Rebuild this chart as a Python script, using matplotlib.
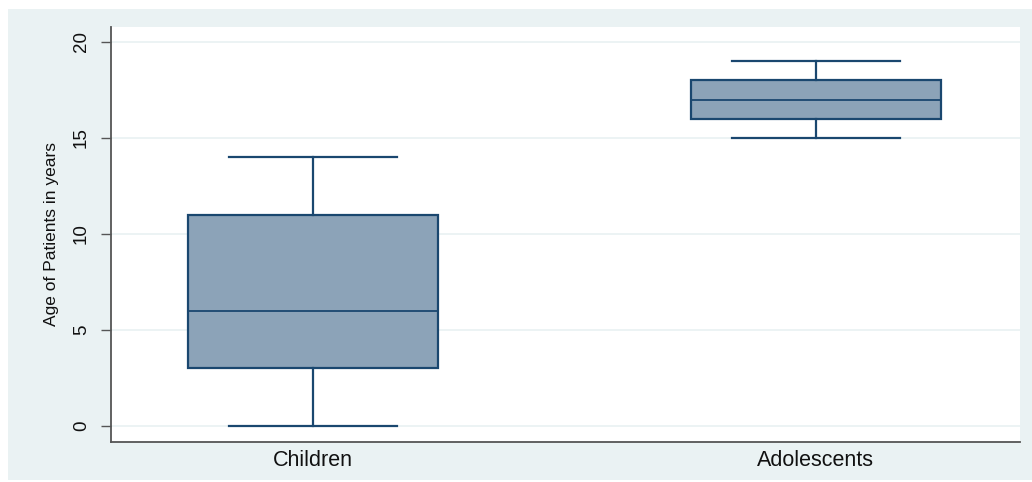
import matplotlib
matplotlib.use("Agg")
import matplotlib.pyplot as plt
from matplotlib.patches import Rectangle

plt.rcParams['font.family'] = ['Liberation Sans', 'DejaVu Sans']

categories = ["Children", "Adolescents"]
whisker_low = [0, 15]
q1 = [3, 16]
median = [6, 17]
q3 = [11, 18]
whisker_high = [14, 19]
yticks = [0, 5, 10, 15, 20]
ylabel = "Age of Patients in years"

W, H = 1032, 482
fig = plt.figure(figsize=(W / 100, H / 100), dpi=100, facecolor='white')
fig.patches.append(Rectangle((8 / W, 2 / H), 1024 / W, 471 / H, transform=fig.transFigure,
                             facecolor='#EAF2F3', edgecolor='none', zorder=-10))
ax = fig.add_axes([111 / W, (H - 442) / H, (1020 - 111) / W, (442 - 27) / H])
ax.set_zorder(1)
ax.set_facecolor('white')

stats = []
for i, c in enumerate(categories):
    stats.append(dict(label=c, whislo=whisker_low[i], q1=q1[i], med=median[i],
                      q3=q3[i], whishi=whisker_high[i], fliers=[]))

navy = '#1A476F'
ax.bxp(stats, positions=[1, 2], widths=0.497, capwidths=0.334, patch_artist=True,
       showfliers=False,
       boxprops=dict(facecolor='#8CA3B8', edgecolor=navy, linewidth=1.6),
       medianprops=dict(color=navy, linewidth=1.3),
       whiskerprops=dict(color=navy, linewidth=1.6),
       capprops=dict(color=navy, linewidth=1.6))

ax.set_xlim(0.598, 2.406)
ax.set_ylim(-0.83, 20.78)
ax.set_yticks(yticks)
ax.set_yticklabels([str(v) for v in yticks], rotation=90, va='center', fontsize=13.5)
ax.set_xticks([1, 2])
ax.set_xticklabels(categories, fontsize=15.5)
ax.tick_params(axis='x', length=0, pad=6, colors='#111111')
ax.tick_params(axis='y', length=7.2, width=1, color='#555555', labelcolor='#111111', pad=8)
ax.grid(axis='y', color='#EAF2F3', linewidth=1.3, zorder=0)
ax.set_axisbelow(True)
for s in ['top', 'right']:
    ax.spines[s].set_visible(False)
for s in ['left', 'bottom']:
    ax.spines[s].set_color('#555555')
    ax.spines[s].set_linewidth(1.3)
ax.set_ylabel(ylabel, fontsize=12.5, labelpad=10, color='#111111')

fig.savefig('out.png', dpi=100, facecolor='white')
